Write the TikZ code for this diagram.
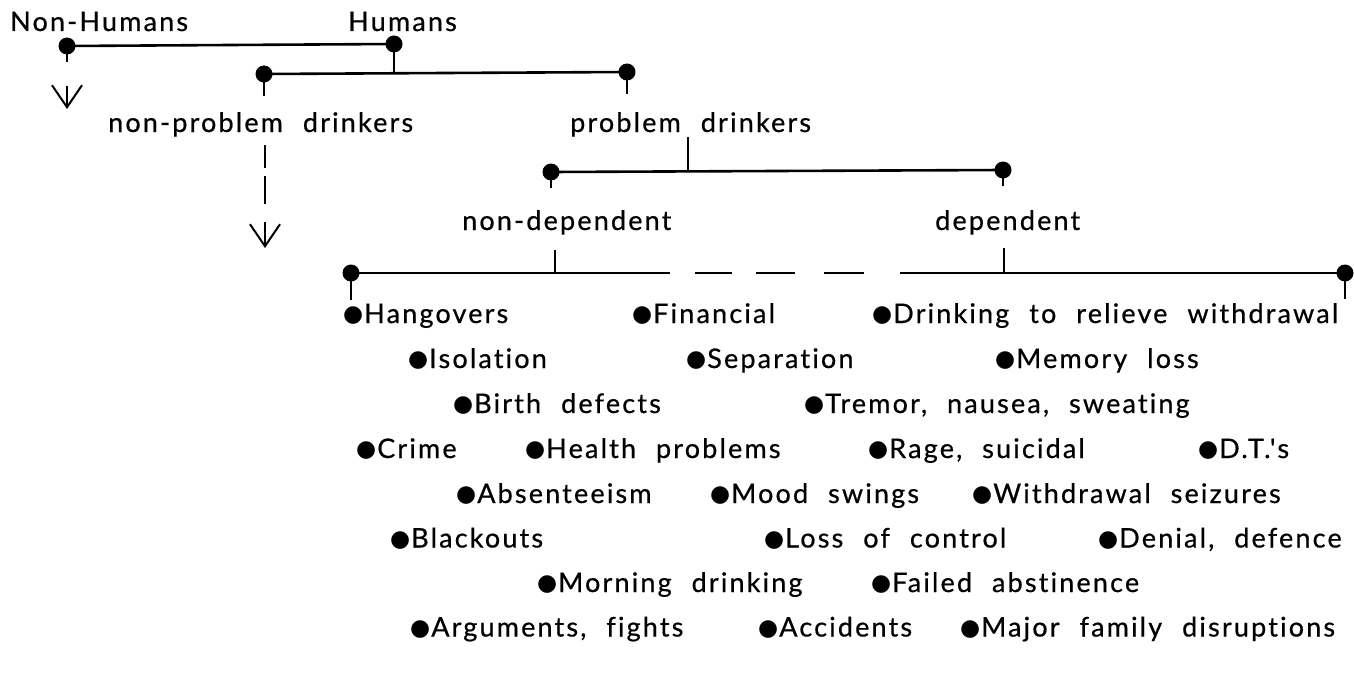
\documentclass[tikz,border=0pt]{standalone}
\usepackage{fontspec}
\newfontfamily\labfont{Lato}[LetterSpace=8,WordSpace=2.2,Ligatures={NoCommon},FakeBold=0.6]
\newfontfamily\symfont{DejaVu Sans}
\usetikzlibrary{arrows.meta}
\newcommand{\bul}{\raisebox{1.2pt}{\symfont\fontsize{23}{23}\selectfont ●}\kern1pt}
\begin{document}
\begin{tikzpicture}[x=1pt,y=-1pt,
  lbl/.style={anchor=base west, inner sep=0pt, font=\labfont\fontsize{27}{30}\selectfont},
  mainline/.style={line width=2.6pt},
  tickline/.style={line width=2pt},
  thinline/.style={line width=1.2pt},
  barb/.style={line width=2pt, -{Straight Barb[length=22pt,width=30pt,line width=2pt]}},
  dotfill/.style={fill=black},
]
\useasboundingbox (0,0) rectangle (1354,674);

% ---------- coordinates of tree dots and junctions
\coordinate (nh) at (67,46);
\coordinate (h)  at (394,44);
\coordinate (np) at (264,74);
\coordinate (p)  at (627,72);
\coordinate (hj) at (394,73);
\coordinate (nd) at (551,172);
\coordinate (d)  at (1003,170);
\coordinate (pj) at (688,171);
\coordinate (l)  at (351,273);
\coordinate (r)  at (1345,273);
\coordinate (ndj) at (555,273);
\coordinate (dj)  at (1004,273);
\coordinate (l4a) at (670,273);
\coordinate (l4b) at (900,273);
\coordinate (dsa) at (695,273);
\coordinate (dsb) at (864,273);

% ---------- labels
\node[lbl] (nonh) at (10,31) {Non-Humans};
\node[lbl] (hum)  at (348,31) {Humans};
\node[lbl] (npd)  at (108,132) {non-problem drinkers};
\node[lbl] (pd)   at (570,132) {problem drinkers};
\node[lbl] (ndl)  at (462,230) {non-dependent};
\node[lbl] (dl)   at (935,230) {dependent};

% ---------- lines
\draw[mainline] (nh) -- (h);
\draw[mainline] (np) -- (p);
\draw[tickline] (h) -- (hj);
\draw[mainline] (nd) -- (d);
\draw[thinline] (pd.south -| pj) -- (pj);
\draw[mainline] (l) -- (l4a);
\draw[mainline, dash pattern=on 37pt off 24pt on 39pt off 29pt on 40pt off 200pt] (dsa) -- (dsb);
\draw[mainline] (l4b) -- (r);
\coordinate (ndt) at (555,250);
\coordinate (dt)  at (1004,248);
\draw[thinline] (ndt) -- (ndj);
\draw[thinline] (dt) -- (dj);

% ticks under dots
\draw[tickline] (nh) -- ++(0,16);
\draw[tickline] (np) -- ++(0,22);
\draw[tickline] (p)  -- ++(0,22);
\draw[tickline] (nd) -- ++(0,16);
\draw[tickline] (d)  -- ++(0,16);
\draw[tickline] (l)  -- ++(0,27);
\draw[tickline] (r)  -- ++(0,26);

% arrows
\coordinate (a1s) at (67,86);
\coordinate (a1e) at (67,109);
\draw[barb] (a1s) -- (a1e);
\coordinate (da1) at (265,145);
\coordinate (da2) at (265,204);
\coordinate (da3) at (265,222);
\coordinate (da4) at (265,248);
\draw[tickline, dash pattern=on 23pt off 8pt on 28pt off 100pt] (da1) -- (da2);
\draw[barb] (da3) -- (da4);

% dots
\foreach \c in {nh,h,np,p,nd,d,l,r} \fill[dotfill] (\c) circle (8.5);

% ---------- items
\node[lbl] (i11) at (343,323) {\bul Hangovers};
\node[lbl] (i12) at (632,323) {\bul Financial};
\node[lbl] (i13) at (872,323) {\bul Drinking to relieve withdrawal};
\node[lbl] (i21) at (408,368) {\bul Isolation};
\node[lbl] (i22) at (686,368) {\bul Separation};
\node[lbl] (i23) at (995,368) {\bul Memory loss};
\node[lbl] (i31) at (453,413) {\bul Birth defects};
\node[lbl] (i32) at (804,413) {\bul Tremor, nausea, sweating};
\node[lbl] (i41) at (356,458) {\bul Crime};
\node[lbl] (i42) at (525,458) {\bul Health problems};
\node[lbl] (i43) at (868,458) {\bul Rage, suicidal};
\node[lbl] (i44) at (1198,458) {\bul D.T.'s};
\node[lbl] (i51) at (456,503) {\bul Absenteeism};
\node[lbl] (i52) at (710,503) {\bul Mood swings};
\node[lbl] (i53) at (972,503) {\bul Withdrawal seizures};
\node[lbl] (i61) at (390,547.5) {\bul Blackouts};
\node[lbl] (i62) at (764,547.5) {\bul Loss of control};
\node[lbl] (i63) at (1098,547.5) {\bul Denial, defence};
\node[lbl] (i71) at (537,592) {\bul Morning drinking};
\node[lbl] (i72) at (871,592) {\bul Failed abstinence};
\node[lbl] (i81) at (410,636.5) {\bul Arguments, fights};
\node[lbl] (i82) at (758,636.5) {\bul Accidents};
\node[lbl] (i83) at (960,636.5) {\bul Major family disruptions};
\end{tikzpicture}
\end{document}
